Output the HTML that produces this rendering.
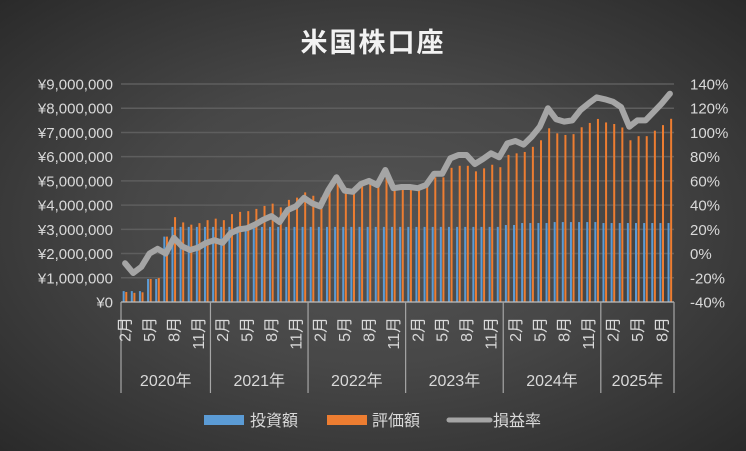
<!DOCTYPE html>
<html><head><meta charset="utf-8">
<style>
html,body{margin:0;padding:0;background:#2e2e2e;}
#c{width:746px;height:451px;background:radial-gradient(ellipse at 50% 50%,#545454 0%,#474747 45%,#2a2a2a 100%);position:relative;overflow:hidden;}
svg{position:absolute;left:0;top:0;font-family:"Liberation Sans","Noto Sans CJK JP",sans-serif;}
</style></head><body>
<div id="c"><svg id="s" width="746" height="451" xmlns="http://www.w3.org/2000/svg">
<text x="373" y="52" text-anchor="middle" fill="#f2f2f2" font-size="27" font-weight="bold" font-family="Noto Sans CJK JP, sans-serif" letter-spacing="2">米国株口座</text>
<g id="g"></g>
<rect x="204" y="415" width="40" height="10" fill="#5b9bd5"/>
<text x="250" y="426" fill="#d9d9d9" font-size="16">投資額</text>
<rect x="327" y="415" width="40" height="10" fill="#ed7d31"/>
<text x="372" y="426" fill="#d9d9d9" font-size="16">評価額</text>
<line x1="449" y1="420" x2="490" y2="420" stroke="#a5a5a5" stroke-width="5" stroke-linecap="round"/>
<text x="493" y="426" fill="#d9d9d9" font-size="16">損益率</text>
</svg></div>
<script>
var NS="http://www.w3.org/2000/svg",g=document.getElementById("g");
function el(t,a,txt){var e=document.createElementNS(NS,t);for(var k in a)e.setAttribute(k,a[k]);if(txt!==undefined)e.textContent=txt;g.appendChild(e);return e;}
var L=121,R=674,T=84,B=302,N=68,pw=(R-L)/N;
for(var i=0;i<=9;i++){var y=B-(B-T)*i/9;
 if(i>0)el("line",{x1:L,x2:R,y1:y,y2:y,stroke:"#5e5e5e","stroke-width":1.5});
 var s="¥"+(i==0?"0":(i+",000,000"));
 el("text",{x:113,y:y+5.5,"text-anchor":"end",fill:"#d9d9d9","font-size":15},s);
 el("text",{x:690,y:y+5.5,fill:"#d9d9d9","font-size":15},(-40+20*i)+"%");}
var blue=[0.45,0.45,0.45,0.95,0.95,2.7];
for(var i=6;i<47;i++)blue.push(3.1);
blue.push(3.18,3.18,3.26,3.26,3.26,3.26,3.3,3.3,3.3,3.3,3.3,3.3);
for(var i=0;i<9;i++)blue.push(3.26);
var p=[-8,-16,-11,0,4,0,13,6,3,5,9,
11,9,17,20,21,24,28,31,26,36,39,46,
41.5,39,52.5,63,52,51,57.5,60,56.6,69,54,55,
55,54,56.6,66,66,78.7,81.4,81.4,74,78,82.8,79.5,
91,93,90,96.5,104.8,120,111,109,110,118.6,124,129,
127.4,125.4,121,104.8,110,110,117,124,132];
var pts=[];
for(var i=0;i<N;i++){var cx=L+pw*(i+0.5);
 var o=blue[i]*(1+p[i]/100);
 var hb=blue[i]/9*(B-T),ho=o/9*(B-T);
 el("rect",{x:cx-2.4,y:B-hb,width:2,height:hb,fill:"#5b9bd5"});
 el("rect",{x:cx+0.2,y:B-ho,width:2,height:ho,fill:"#ed7d31"});
 pts.push(cx.toFixed(1)+","+(253.6-p[i]*1.211).toFixed(1));}
el("polyline",{points:pts.join(" "),fill:"none",stroke:"#a5a5a5","stroke-width":6,"stroke-linejoin":"round","stroke-linecap":"round"});
el("line",{x1:L,x2:R,y1:B,y2:B,stroke:"#bfbfbf","stroke-width":1.2});
var starts=[0,11,23,35,47,59,68],years=["2020年","2021年","2022年","2023年","2024年","2025年"];
for(var k=0;k<starts.length;k++){var x=L+pw*starts[k];
 el("line",{x1:x,x2:x,y1:B,y2:393,stroke:"#a6a6a6","stroke-width":1.2});
 if(k<6){var x2=L+pw*starts[k+1];el("text",{x:(x+x2)/2,y:386,"text-anchor":"middle",fill:"#d9d9d9","font-size":16},years[k]);}}
for(var i=0;i<N;i++){var m=(i+1)%12+1; if(m==2||m==5||m==8||m==11){var cx=L+pw*(i+0.5)+5.5;
 el("text",{x:0,y:0,transform:"translate("+cx.toFixed(1)+",317) rotate(-90)","text-anchor":"end",fill:"#d9d9d9","font-size":16},m+"月");}}
</script>
</body></html>
